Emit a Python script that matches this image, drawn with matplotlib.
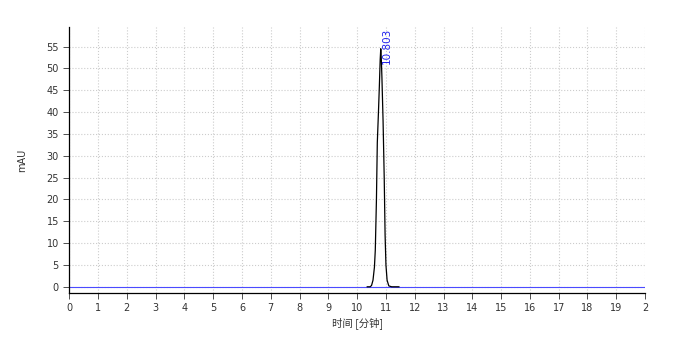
import matplotlib.pyplot as plt

# chromatogram trace (minutes, mAU)
peak_time = [10.35, 10.45, 10.50, 10.55, 10.60, 10.63, 10.67, 10.70, 10.74, 10.77, 10.80, 10.82,
             10.84, 10.86, 10.90, 10.94, 10.97, 11.00, 11.04, 11.10, 11.20, 11.45]
peak_signal = [0.0, 0.0, 0.3, 1.5, 4.5, 8.4, 20.0, 33.0, 40.0, 45.7, 52.0, 54.5,
               52.0, 48.0, 38.0, 25.0, 12.0, 5.0, 1.5, 0.2, 0.0, 0.0]
peak_label = "10.803"
peak_label_x = 10.803

x_ticks = list(range(0, 21))
x_ticklabels = [str(t) for t in range(0, 20)] + ["2"]
y_ticks = list(range(0, 60, 5))

plt.rcParams['font.family'] = ['DejaVu Sans', 'Noto Sans CJK SC']

fig = plt.figure(figsize=(6.79, 3.45), dpi=100)
ax = fig.add_axes([0.102, 0.151, 0.848, 0.771])

ax.axhline(0, color='#4b4bff', linewidth=0.8, zorder=2)
ax.plot(peak_time, peak_signal, color='black', linewidth=0.9, zorder=3)
ax.text(peak_label_x + 0.05, 59.3, peak_label, rotation=90, color='#2222ee',
        fontsize=7.5, ha='left', va='top')

ax.set_xlim(0, 20)
ax.set_ylim(-1.4, 59.5)
ax.set_xticks(x_ticks)
ax.set_xticklabels(x_ticklabels)
ax.set_yticks(y_ticks)
ax.tick_params(labelsize=7, length=4, width=0.6, color='#333333', labelcolor='#333333')
ax.grid(True, color='#cccccc', linestyle=':', linewidth=0.8)

for side in ['top', 'right']:
    ax.spines[side].set_visible(False)
for side in ['left', 'bottom']:
    ax.spines[side].set_linewidth(0.9)

ax.set_xlabel("时间 [分钟]", fontsize=7.5, family=['Noto Sans CJK SC', 'DejaVu Sans'],
              color='#333333', labelpad=3)
ax.set_ylabel("mAU", fontsize=7, color='#333333', labelpad=14)

fig.savefig("out.png", dpi=100)
